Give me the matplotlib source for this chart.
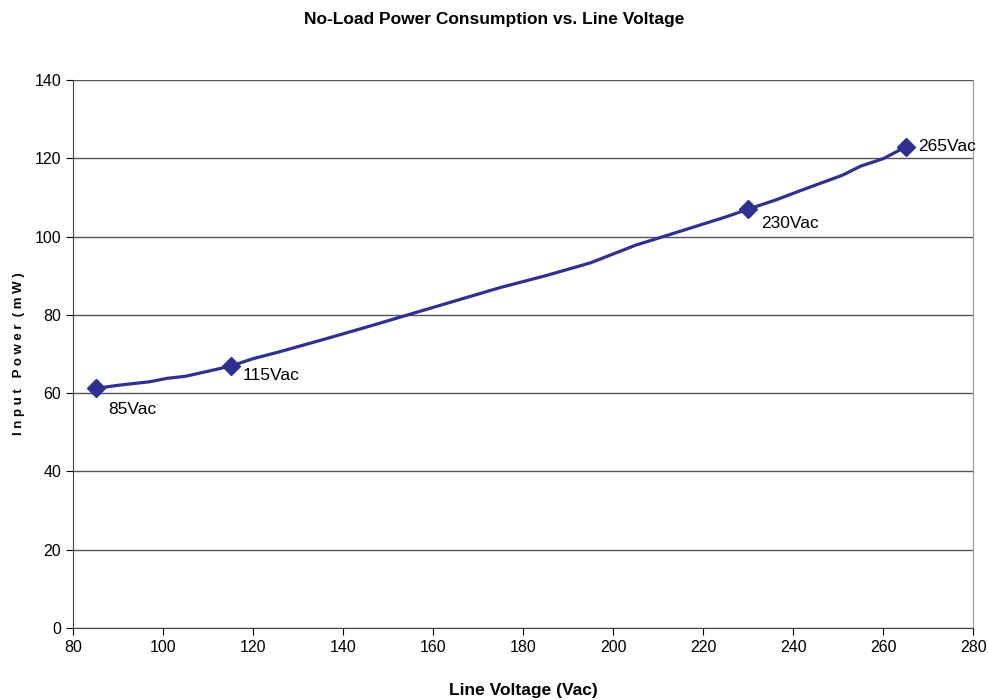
import matplotlib.pyplot as plt

plt.rcParams['font.family'] = ['Liberation Sans', 'DejaVu Sans']

# line voltage (Vac) and input power (mW)
voltage = [85, 90, 97, 101, 105, 115, 120, 126, 135, 145, 155, 165, 175, 185, 195,
           205, 212, 220, 225, 230, 236, 242, 251, 255, 260, 265]
power = [61.2, 62.0, 62.9, 63.8, 64.3, 66.9, 68.8, 70.6, 73.5, 76.8, 80.2, 83.6, 87.0,
         90.0, 93.3, 97.8, 100.3, 103.2, 105.0, 107.0, 109.3, 111.9, 115.7, 118.0, 119.9, 122.9]

# labelled points
mark_v = [85, 115, 230, 265]
mark_p = [61.2, 66.9, 107.0, 122.9]
mark_txt = ['85Vac', '115Vac', '230Vac', '265Vac']
mark_off = [(9, -15), (9, -7), (9, -10), (9, 0)]

color = '#2E3192'

fig = plt.figure(figsize=(9.88, 7), dpi=100)
ax = fig.add_axes([0.0739, 0.1029, 0.9111, 0.7828])

ax.plot(voltage, power, color=color, lw=2.3, zorder=3)
ax.plot(mark_v, mark_p, 'D', color=color, ms=9, zorder=4, ls='none')
for v, p, t, off in zip(mark_v, mark_p, mark_txt, mark_off):
    ax.annotate(t, (v, p), xytext=off, textcoords='offset points',
                fontsize=12.5, va='center', ha='left')

ax.set_xlim(80, 280)
ax.set_ylim(0, 140)
ax.set_xticks(range(80, 281, 20))
ax.set_yticks(range(0, 141, 20))
ax.yaxis.grid(True, color='#555555', lw=1)
ax.set_axisbelow(True)
ax.tick_params(labelsize=11.5, length=5, direction='out')
ax.spines['top'].set_visible(False)
ax.spines['right'].set_color('#999999')
ax.spines['left'].set_color('#444444')
ax.spines['bottom'].set_color('#444444')

ax.set_xlabel('Line Voltage (Vac)', fontsize=12.5, fontweight='bold', labelpad=20)
ax.set_ylabel('I n p u t   P o w e r  ( m W )', fontsize=9.5, fontweight='bold', labelpad=7)
fig.suptitle('No-Load Power Consumption vs. Line Voltage', fontsize=12.5,
             fontweight='bold', y=0.983)

fig.savefig('out.png', dpi=100)
